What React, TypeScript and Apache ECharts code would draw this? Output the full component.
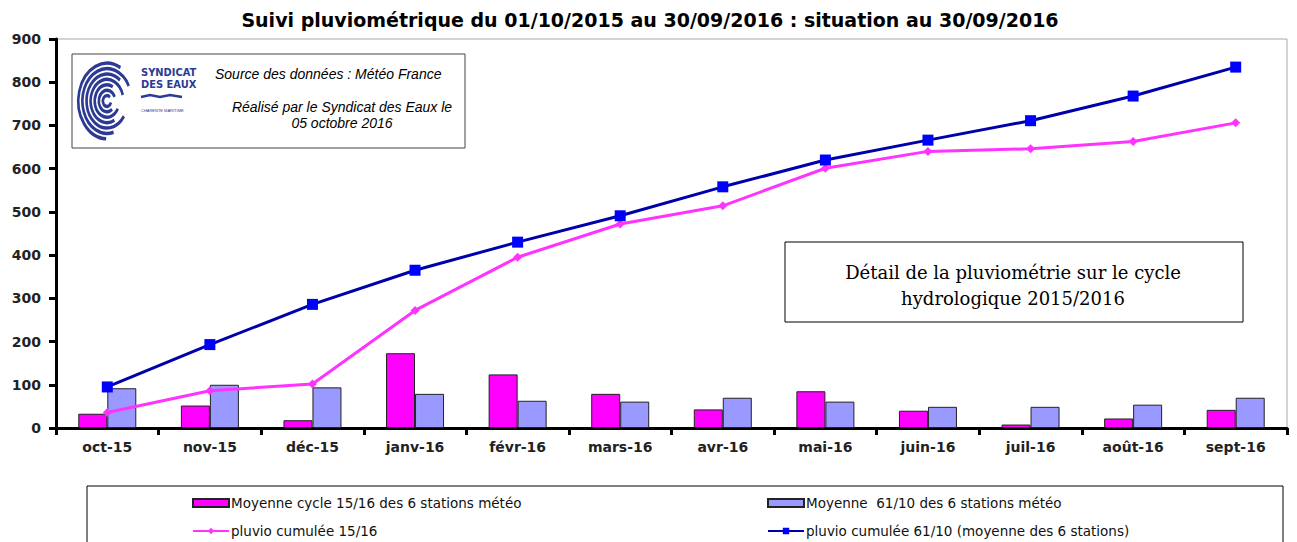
import React, { useEffect, useRef } from "react";
import * as echarts from "echarts";

const categories = ["oct-15", "nov-15", "déc-15", "janv-16", "févr-16", "mars-16", "avr-16", "mai-16", "juin-16", "juil-16", "août-16", "sept-16"];
const moyenneCycle = [33, 52, 18, 173, 124, 79, 43, 85, 40, 8, 22, 42];
const moyenne6110 = [92, 100, 94, 79, 63, 61, 70, 61, 49, 49, 54, 70];
const cumul1516 = [36, 86, 102, 272, 395, 472, 514, 601, 640, 646, 663, 706];
const cumul6110 = [95, 193, 286, 365, 430, 491, 558, 620, 666, 711, 768, 835];
const yTicks = { min: 0, max: 900, interval: 100 };

const names = [
  "Moyenne cycle 15/16 des 6 stations météo",
  "Moyenne  61/10 des 6 stations météo",
  "pluvio cumulée 15/16",
  "pluvio cumulée 61/10 (moyenne des 6 stations)",
];

const SANS = 'Arial, "Liberation Sans", sans-serif';
const WIDE = '"DejaVu Sans", Verdana, sans-serif';
const SERIF = '"DejaVu Serif", "Times New Roman", serif';
const LOGO = "#2d3a94";

function logoArcs() {
  const arcs = [
    { r: 5, s: 0.3, e: 5.5 },
    { r: 10, s: 0.9, e: 5.9 },
    { r: 15, s: 0.5, e: 5.2 },
    { r: 20, s: 1.1, e: 6.0 },
    { r: 25, s: 0.6, e: 5.4 },
    { r: 30, s: 1.3, e: 5.8 },
    { r: 35, s: 1.6, e: 5.2 },
  ];
  return {
    type: "group",
    x: 107,
    y: 101,
    scaleX: 0.82,
    scaleY: 1.08,
    z: 11,
    children: arcs.map((a) => ({
      type: "arc",
      shape: { cx: 0, cy: 0, r: a.r, startAngle: a.s, endAngle: a.e },
      style: { stroke: LOGO, lineWidth: 3.2, fill: "none" },
      z: 11,
    })),
  };
}

export default function App() {
  const ref = useRef<HTMLDivElement>(null);
  useEffect(() => {
    document.body.style.margin = "0";
    const chart = echarts.init(ref.current!, null, { renderer: "svg" });
    const legendBase = {
      orient: "horizontal",
      itemWidth: 36,
      itemHeight: 8,
      itemGap: 4,
      padding: 0,
      textStyle: { fontFamily: WIDE, fontSize: 13.5, color: "#111", padding: [0, 0, 0, -3] },
      selectedMode: false,
    };
    chart.setOption({
      animation: false,
      backgroundColor: "#fff",
      title: {
        text: "Suivi pluviométrique du 01/10/2015 au 30/09/2016 : situation au 30/09/2016",
        left: 645,
        textAlign: "center",
        top: 5,
        textStyle: { fontFamily: WIDE, fontSize: 19, fontWeight: "bold", color: "#000" },
      },
      legend: [
        { ...legendBase, data: [{ name: names[0], icon: "rect" }], left: 192, top: 496 },
        { ...legendBase, data: [{ name: names[1], icon: "rect" }], left: 767, top: 496 },
        { ...legendBase, data: [names[2]], left: 192, top: 524 },
        { ...legendBase, data: [names[3]], left: 767, top: 524 },
      ],
      grid: {
        left: 56,
        right: 10,
        top: 39,
        bottom: 114,
        show: true,
        borderColor: "#a8a8a8",
        borderWidth: 1,
      },
      xAxis: {
        type: "category",
        data: categories,
        boundaryGap: true,
        axisLine: { lineStyle: { color: "#000", width: 3 } },
        axisTick: { show: true, alignWithLabel: false, length: 7, lineStyle: { color: "#000", width: 3 } },
        axisLabel: { fontFamily: WIDE, fontSize: 14, fontWeight: "bold", color: "#222", margin: 12 },
      },
      yAxis: {
        type: "value",
        min: yTicks.min,
        max: yTicks.max,
        interval: yTicks.interval,
        splitLine: { show: false },
        axisLine: { show: true, lineStyle: { color: "#000", width: 3 } },
        axisTick: { show: true, length: 7, lineStyle: { color: "#000", width: 3 } },
        axisLabel: { fontFamily: WIDE, fontSize: 14, fontWeight: "bold", color: "#222", margin: 15 },
      },
      series: [
        {
          name: names[0],
          type: "bar",
          data: moyenneCycle,
          barWidth: 29,
          barGap: "0%",
          itemStyle: { color: "#ff00ff", borderColor: "#222", borderWidth: 1 },
          z: 2,
        },
        {
          name: names[1],
          type: "bar",
          data: moyenne6110,
          barWidth: 29,
          barGap: "0%",
          itemStyle: { color: "#9999ff", borderColor: "#222", borderWidth: 1 },
          z: 2,
        },
        {
          name: names[2],
          type: "line",
          data: cumul1516,
          symbol: "diamond",
          symbolSize: 9,
          lineStyle: { color: "#ff33ff", width: 3 },
          itemStyle: { color: "#ff33ff" },
          z: 4,
        },
        {
          name: names[3],
          type: "line",
          data: cumul6110,
          symbol: "rect",
          symbolSize: 11,
          lineStyle: { color: "#0000aa", width: 3 },
          itemStyle: { color: "#0000ff" },
          z: 5,
        },
      ],
      graphic: [
        {
          type: "rect",
          shape: { x: 72, y: 54, width: 393, height: 94 },
          style: { fill: "#fff", stroke: "#444", lineWidth: 1 },
          z: 10,
        },
        logoArcs(),
        { type: "text", x: 141, y: 67, z: 11, style: { text: "SYNDICAT", fill: LOGO, font: 'bold 11px "DejaVu Sans Condensed", sans-serif' } },
        { type: "text", x: 141, y: 79, z: 11, style: { text: "DES EAUX", fill: LOGO, font: 'bold 11px "DejaVu Sans Condensed", sans-serif' } },
        { type: "polyline", z: 11, shape: { points: [[141, 97], [150, 95], [160, 97], [170, 95], [182, 97]] }, style: { stroke: LOGO, lineWidth: 2.5, fill: "none" } },
        { type: "text", x: 141, y: 108, z: 11, style: { text: "CHARENTE MARITIME", fill: LOGO, font: '4px sans-serif' } },
        { type: "text", x: 215, y: 67, z: 11, style: { text: "Source des données : Météo France", fill: "#000", font: `italic 14px ${SANS}` } },
        { type: "text", x: 342, y: 99, z: 11, style: { text: "Réalisé par le Syndicat des Eaux le\n05 octobre 2016", fill: "#000", font: `italic 14px ${SANS}`, align: "center", lineHeight: 16 } },
        {
          type: "rect",
          shape: { x: 785, y: 242, width: 458, height: 80 },
          style: { fill: "#fff", stroke: "#000", lineWidth: 1 },
          z: 10,
        },
        { type: "text", x: 1013, y: 259, z: 11, style: { text: "Détail de la pluviométrie sur le cycle\nhydrologique 2015/2016", fill: "#000", font: `18px ${SERIF}`, align: "center", lineHeight: 26 } },
        {
          type: "rect",
          shape: { x: 87, y: 486, width: 1196, height: 70 },
          style: { fill: "none", stroke: "#000", lineWidth: 1 },
          z: 10,
        },
      ],
    });
    return () => chart.dispose();
  }, []);
  return <div ref={ref} style={{ width: 1297, height: 542 }} />;
}
